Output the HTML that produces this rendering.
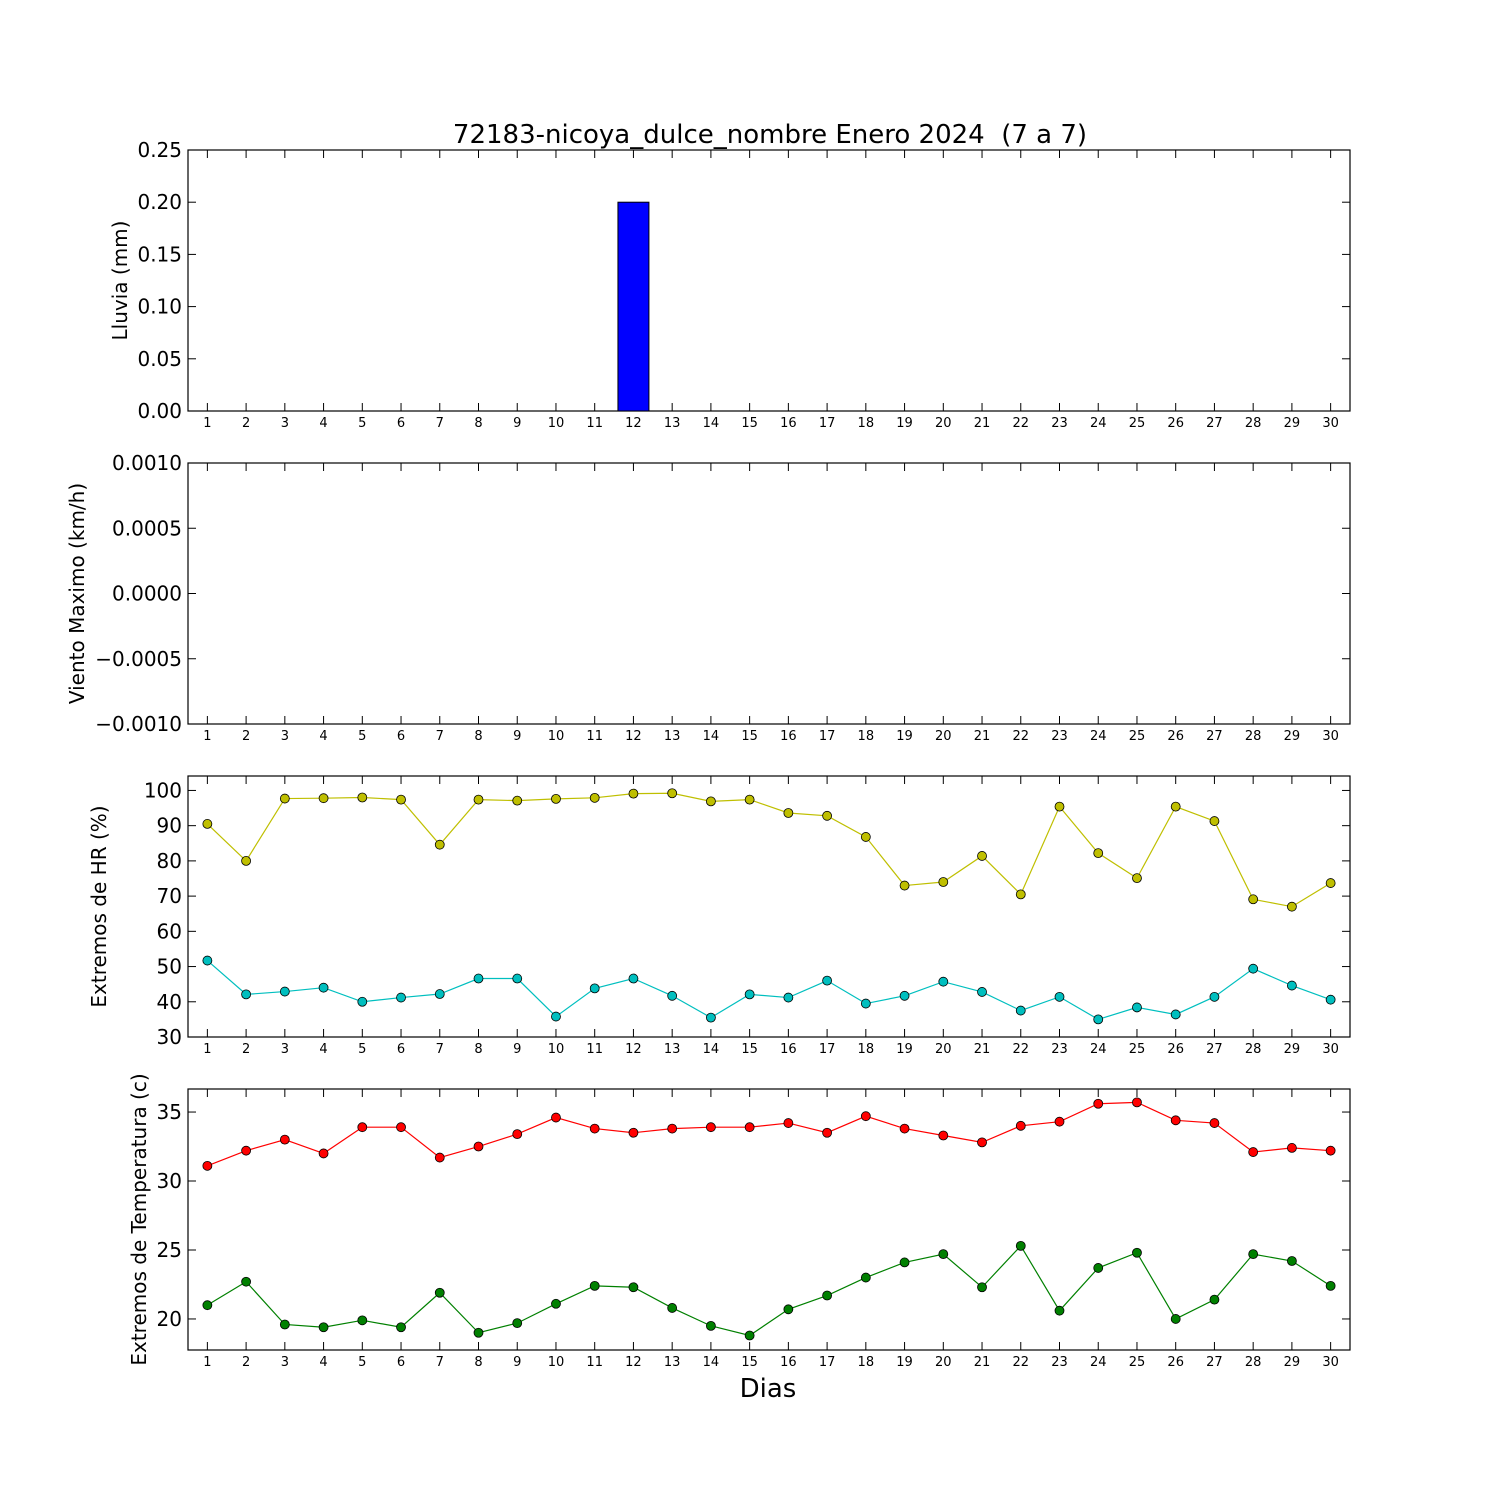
<!DOCTYPE html>
<html><head><meta charset="utf-8"><style>
body{margin:0;background:#fff}
svg text{font-family:"DejaVu Sans","Liberation Sans",sans-serif}
</style></head><body>
<svg id="c" width="1500" height="1500" viewBox="0 0 1500 1500" xmlns="http://www.w3.org/2000/svg">
<rect width="1500" height="1500" fill="#fff"/>
<text x="770" y="143" font-size="26" text-anchor="middle" style="white-space:pre" xml:space="preserve">72183-nicoya_dulce_nombre Enero 2024  (7 a 7)</text>
<text x="768" y="1397" font-size="26" text-anchor="middle">Dias</text>
</svg>
<script>
const days=[1,2,3,4,5,6,7,8,9,10,11,12,13,14,15,16,17,18,19,20,21,22,23,24,25,26,27,28,29,30];
const rain=[0,0,0,0,0,0,0,0,0,0,0,0.2,0,0,0,0,0,0,0,0,0,0,0,0,0,0,0,0,0,0];
const hrMax=[90.5,80,97.7,97.8,98,97.4,84.6,97.4,97.1,97.6,97.9,99.1,99.2,96.9,97.4,93.6,92.8,86.8,73,74,81.4,70.5,95.4,82.2,75.1,95.4,91.3,69.1,67,73.7];
const hrMin=[51.7,42.1,42.9,44,40,41.2,42.2,46.6,46.6,35.8,43.8,46.6,41.7,35.5,42.1,41.2,46,39.5,41.7,45.7,42.8,37.5,41.4,35,38.4,36.4,41.4,49.4,44.6,40.6];
const tMax=[31.1,32.2,33,32,33.9,33.9,31.7,32.5,33.4,34.6,33.8,33.5,33.8,33.9,33.9,34.2,33.5,34.7,33.8,33.3,32.8,34,34.3,35.6,35.7,34.4,34.2,32.1,32.4,32.2];
const tMin=[21,22.7,19.6,19.4,19.9,19.4,21.9,19,19.7,21.1,22.4,22.3,20.8,19.5,18.8,20.7,21.7,23,24.1,24.7,22.3,25.3,20.6,23.7,24.8,20,21.4,24.7,24.2,22.4];
const rainTicks=["0.00","0.05","0.10","0.15","0.20","0.25"];
const windTicks=["\u22120.0010","\u22120.0005","0.0000","0.0005","0.0010"];
const hrTicks=["30","40","50","60","70","80","90","100"];
const tTicks=["20","25","30","35"];

const svg=document.getElementById('c');
const NS='http://www.w3.org/2000/svg';
const L=188,R=1350;
function X(d){return L+(d-0.5)/30*(R-L);}
function mk(tag,at,name){const e=document.createElementNS(NS,tag);for(const k in at)e.setAttribute(k,at[k]);


svg.appendChild(e);return e;}
const panels=[
 {top:150,bot:411,ymin:0,ymax:0.25,ticks:rainTicks,label:"Lluvia (mm)",lx:127,name:'rain'},
 {top:463,bot:724,ymin:-0.001,ymax:0.001,ticks:windTicks,label:"Viento Maximo (km/h)",lx:84,name:'wind'},
 {top:776,bot:1037,ymin:30,ymax:104.1,ticks:hrTicks,label:"Extremos de HR (%)",lx:106,name:'hr'},
 {top:1089,bot:1350,ymin:17.75,ymax:36.67,ticks:tTicks,label:"Extremos de Temperatura (c)",lx:146,name:'temp'}];
panels.forEach(p=>{
 p.Y=v=>p.bot-(v-p.ymin)/(p.ymax-p.ymin)*(p.bot-p.top);
 mk('rect',{x:L,y:p.top,width:R-L,height:p.bot-p.top,fill:'none',stroke:'#000','stroke-width':1.2},p.name+'-frame');
 p.ticks.forEach(t=>{const v=parseFloat(t.replace('\u2212','-'));const y=p.Y(v);
  mk('line',{x1:L,x2:L+8,y1:y,y2:y,stroke:'#000'},p.name+'-ytick');
  mk('line',{x1:R,x2:R-8,y1:y,y2:y,stroke:'#000'},p.name+'-ytick');
  const tx=mk('text',{x:L-6,y:y+7,'font-size':20,'text-anchor':'end'},p.name+'-ytick-label');tx.textContent=t;});
 days.forEach(d=>{const x=X(d);
  mk('line',{x1:x,x2:x,y1:p.bot,y2:p.bot-8,stroke:'#000'},p.name+'-xtick');
  mk('line',{x1:x,x2:x,y1:p.top,y2:p.top+8,stroke:'#000'},p.name+'-xtick');
  const tx=mk('text',{x:x,y:p.bot+16,'font-size':13,'text-anchor':'middle'},p.name+'-xtick-label');tx.textContent=d;});
 const lb=mk('text',{x:p.lx,y:(p.top+p.bot)/2,'font-size':20,'text-anchor':'middle',transform:`rotate(-90 ${p.lx} ${(p.top+p.bot)/2})`},p.name+'-y-axis-title');lb.textContent=p.label;
});
const P0=panels[0],bw=0.8*(R-L)/30;
rain.forEach((v,i)=>{const x=X(days[i])-bw/2;const y=P0.Y(v);
 mk('rect',{x:x,y:y,width:bw,height:P0.bot-y,fill:'#0000ff',stroke:'#000','stroke-width':1},'rain-bar');});
function series(p,vals,color,name){
 mk('polyline',{points:vals.map((v,i)=>X(days[i])+','+p.Y(v)).join(' '),fill:'none',stroke:color,'stroke-width':1.2},name+'-line');
 vals.forEach((v,i)=>mk('circle',{cx:X(days[i]),cy:p.Y(v),r:4.5,fill:color,stroke:'#000','stroke-width':0.8},name+'-point'));
}
series(panels[2],hrMax,'#bfbf00','hr-max');
series(panels[2],hrMin,'#00bfbf','hr-min');
series(panels[3],tMax,'#ff0000','temp-max');
series(panels[3],tMin,'#008000','temp-min');
</script>
</body></html>
